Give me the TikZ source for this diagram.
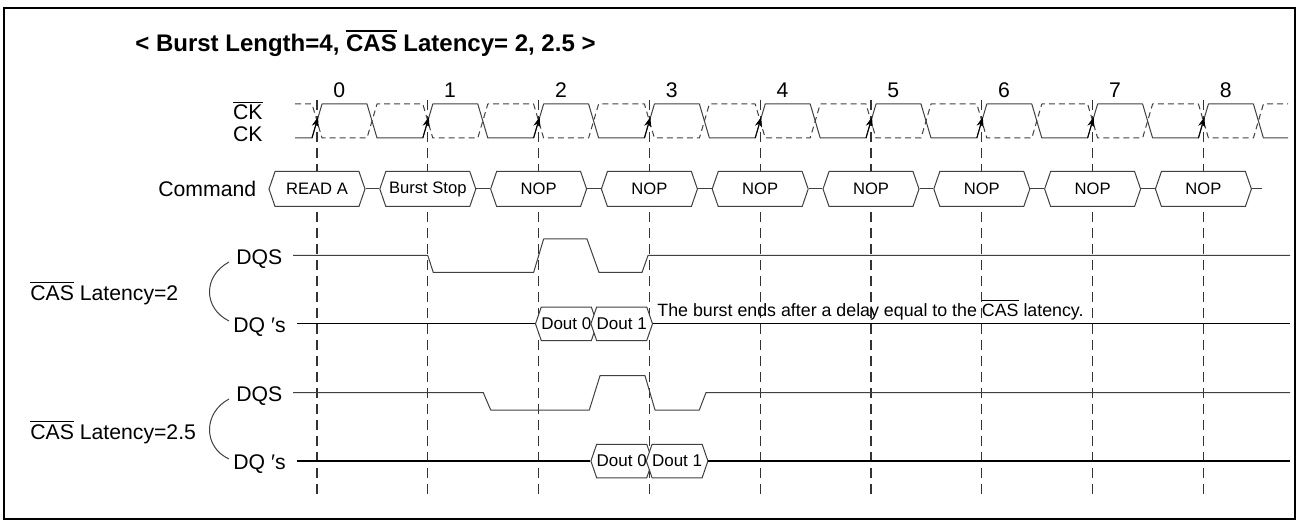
\documentclass[tikz,border=0pt]{standalone}
\usepackage{fontspec}
\setmainfont{Liberation Sans}
\usetikzlibrary{shapes.symbols, arrows.meta}
\newcommand{\ovl}[2][0.5pt]{\vbox{\hrule height #1\kern 1.3pt\hbox{#2}}}
\newcommand{\clkedges}{317, 427.8, 538.6, 649.4, 760.2, 871, 981.8, 1092.6, 1203.4}

\begin{document}
\begin{tikzpicture}[x = 0.5pt, y = -0.5pt,
    wave/.style = {line width = 0.5pt, black!75, line join = round},
    sig/.style = {line width = 0.7pt, black},
    guide/.style = {line width = 0.6pt, black!80, dash pattern = on 5pt off 3pt},
    cmdbox/.style = {shape = signal, signal to = west and east, signal pointer angle = 142,
        draw = black!75, fill = white, line width = 0.5pt, minimum width = 48pt,
        minimum height = 17.5pt, inner sep = 0pt, font = \fontsize{8.3}{10}\selectfont},
    doutbox/.style = {cmdbox, minimum width = 27.7pt, minimum height = 16.75pt,
        font = \fontsize{8.5}{10}\selectfont},
    lbl/.style = {inner sep = 0pt, anchor = base west, font = \fontsize{10.6}{12}\selectfont}]

\useasboundingbox (0, 0) rectangle (1299, 523);
\draw [line width = 1.2pt] (4, 8) rectangle (1295, 519);

% title
\node [lbl, font = \bfseries\fontsize{12}{14}\selectfont] (title) at (135, 51.5)
    {< Burst Length=4, \ovl[1.2pt]{CAS} Latency= 2, 2.5 >};

% clock edges
\foreach \e in \clkedges \draw [guide] (\e, 100) -- (\e, 498);
\foreach \e [count = \n from 0] in \clkedges \node [lbl] (num\n) at (\e + 16, 97.5) {\n};

\draw [wave] (295, 138) foreach \e in \clkedges
    { -- (\e - 5, 138) -- (\e + 5, 104) -- (\e + 50, 104) -- (\e + 60, 138) } -- (1288, 138);
\draw [wave, dash pattern = on 3pt off 2pt] (295, 104) foreach \e in \clkedges
    { -- (\e - 5, 104) -- (\e + 5, 138) -- (\e + 50, 138) -- (\e + 60, 104) } -- (1288, 104);
\foreach \e in \clkedges
    \draw [wave, black, -{Stealth[length = 5pt, width = 3.6pt]}] (\e - 5, 138) -- (\e + 1, 117);

\node [lbl, anchor = base east] (ckb) at (263, 120) {\ovl{CK}};
\node [lbl, anchor = base east] (ck) at (263, 142) {CK};

% command
\node [lbl] (cmdlbl) at (158, 196.5) {Command};
\node [cmdbox] (cmd0) at (317, 189) {READ A};
\node [cmdbox] (cmd1) at (427.8, 189) {Burst Stop};
\node [cmdbox] (cmd2) at (538.6, 189) {NOP};
\node [cmdbox] (cmd3) at (649.4, 189) {NOP};
\node [cmdbox] (cmd4) at (760.2, 189) {NOP};
\node [cmdbox] (cmd5) at (871, 189) {NOP};
\node [cmdbox] (cmd6) at (981.8, 189) {NOP};
\node [cmdbox] (cmd7) at (1092.6, 189) {NOP};
\node [cmdbox] (cmd8) at (1203.4, 189) {NOP};
\coordinate (cmdend) at (1262, 189);
\foreach \a/\b in {0/1, 1/2, 2/3, 3/4, 4/5, 5/6, 6/7, 7/8}
    \draw [wave] (cmd\a.east) -- (cmd\b.west);
\draw [wave] (cmd8.east) -- (cmdend);

% CAS latency = 2
\node [lbl] (cla) at (30, 300) {\ovl{CAS} Latency=2};
\node [lbl] (dqsa) at (236, 264.5) {DQS};
\node [lbl] (dqa) at (233, 332) {DQ ′s};
\draw [wave] (229, 262) .. controls (203, 276) and (203, 308) .. (229, 321);
\draw [wave] (293, 255.5) -- (427.8, 255.5) -- (433.3, 272.5) -- (533.6, 272.5) -- (543.6, 239)
    -- (587, 239) -- (599, 272.5) -- (642, 272.5) -- (648, 255.5) -- (1290, 255.5);
\node [doutbox] (dqa0) at (566.3, 323.8) {Dout 0};
\node [doutbox] (dqa1) at (621.7, 323.8) {Dout 1};
\coordinate (dqaL) at (297, 323.8);
\coordinate (dqaR) at (1290, 323.8);
\draw [sig] (dqaL) -- (dqa0.west);
\draw [sig] (dqa1.east) -- (dqaR);
\node [lbl, font = \fontsize{8.9}{11}\selectfont] (note) at (657, 316.5)
    {The burst ends after a delay equal to the \ovl{CAS} latency.};

% CAS latency = 2.5
\node [lbl] (clb) at (30, 439.5) {\ovl{CAS} Latency=2.5};
\node [lbl] (dqsb) at (236, 401.5) {DQS};
\node [lbl] (dqb) at (233, 469.5) {DQ ′s};
\draw [wave] (229, 399) .. controls (203, 413) and (203, 447) .. (229, 459);
\draw [wave] (293, 392.5) -- (483.2, 392.5) -- (490.7, 410) -- (589.3, 410) -- (600, 375.7)
    -- (645, 375.7) -- (655, 410) -- (699.3, 410) -- (706, 392.5) -- (1290, 392.5);
\node [doutbox] (dqb0) at (621.7, 461) {Dout 0};
\node [doutbox] (dqb1) at (677.1, 461) {Dout 1};
\coordinate (dqbL) at (297, 461);
\coordinate (dqbR) at (1290, 461);
\draw [sig] (dqbL) -- (dqb0.west);
\draw [sig] (dqb1.east) -- (dqbR);

\end{tikzpicture}
\end{document}
